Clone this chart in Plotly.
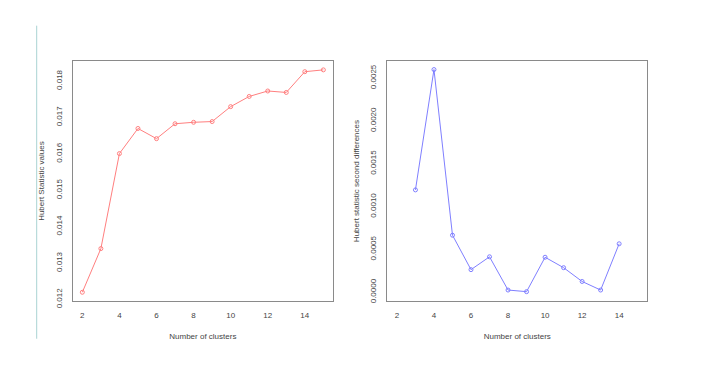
import plotly.graph_objects as go

clusters = [2, 3, 4, 5, 6, 7, 8, 9, 10, 11, 12, 13, 14, 15]
hubert_values = [0.01220, 0.01340, 0.01601, 0.01670, 0.01642, 0.01683, 0.01687,
                 0.01689, 0.01730, 0.01758, 0.01773, 0.01769, 0.01826, 0.01831]
second_diff = [None, 0.001195, 0.00260, 0.000666, 0.000264, 0.000414, 0.000026,
               0.000007, 0.000409, 0.000287, 0.000126, 0.000026, 0.000566, None]
x_ticks = [2, 4, 6, 8, 10, 12, 14]

OFF = 8  # page body margin
W, H = 704 - OFF, 384 - OFF
def px_x(p): return (p - OFF) / W
def px_y(p): return 1 - (p - OFF) / H

FONT = "Liberation Sans, Arial, sans-serif"
tick_font = dict(family=FONT, size=8, color="#444444")
title_font = dict(family=FONT, size=8, color="#444444")
BOX = "#8a8a8a"

fig = go.Figure()
fig.add_trace(go.Scatter(
    x=clusters, y=hubert_values, mode="lines+markers",
    line=dict(color="#ff7f7f", width=1),
    marker=dict(symbol="circle-open", size=4, color="#ff7f7f", line=dict(width=1)),
    xaxis="x", yaxis="y", showlegend=False))
fig.add_trace(go.Scatter(
    x=clusters, y=second_diff, mode="lines+markers",
    line=dict(color="#7f7fff", width=1),
    marker=dict(symbol="circle-open", size=4, color="#7f7fff", line=dict(width=1)),
    xaxis="x2", yaxis="y2", showlegend=False, connectgaps=False))

common_x = dict(range=[1.48, 15.52], tickvals=x_ticks, showgrid=False, zeroline=False,
                showline=True, mirror=True, linecolor=BOX, linewidth=1,
                ticks="outside", ticklen=6, tickcolor="rgba(0,0,0,0)",
                tickfont=tick_font)
common_y = dict(showgrid=False, zeroline=False, showline=True, mirror=True,
                linecolor=BOX, linewidth=1, ticks="outside", ticklen=7,
                tickcolor="rgba(0,0,0,0)", tickangle=-90, tickfont=tick_font)

fig.update_layout(
    width=W, height=H, margin=dict(l=0, r=0, t=0, b=0),
    paper_bgcolor="white", plot_bgcolor="white",
    xaxis=dict(domain=[px_x(72.7), px_x(333)], anchor="y",
               title=dict(text="Number of clusters", font=title_font, standoff=14), **common_x),
    yaxis=dict(domain=[px_y(306.7), px_y(62)], anchor="x",
               range=[0.011956, 0.018554], dtick=0.001, tick0=0.012, tickformat=".3f",
               title=dict(text="Hubert Statistic values", font=title_font, standoff=8), **common_y),
    xaxis2=dict(domain=[px_x(387.3), px_x(647.3)], anchor="y2",
                title=dict(text="Number of clusters", font=title_font, standoff=14), **common_x),
    yaxis2=dict(domain=[px_y(306.7), px_y(62)], anchor="x2",
                range=[-0.0001036, 0.0027], dtick=0.0005, tick0=0, tickformat=".4f",
                title=dict(text="Hubert statistic second differences", font=title_font, standoff=8),
                **common_y),
    shapes=[dict(type="line", xref="paper", yref="paper",
                 x0=px_x(36.7), x1=px_x(36.7), y0=px_y(345), y1=px_y(26),
                 line=dict(color="#a9d3d3", width=1))],
)

fig.write_html("out.html")
